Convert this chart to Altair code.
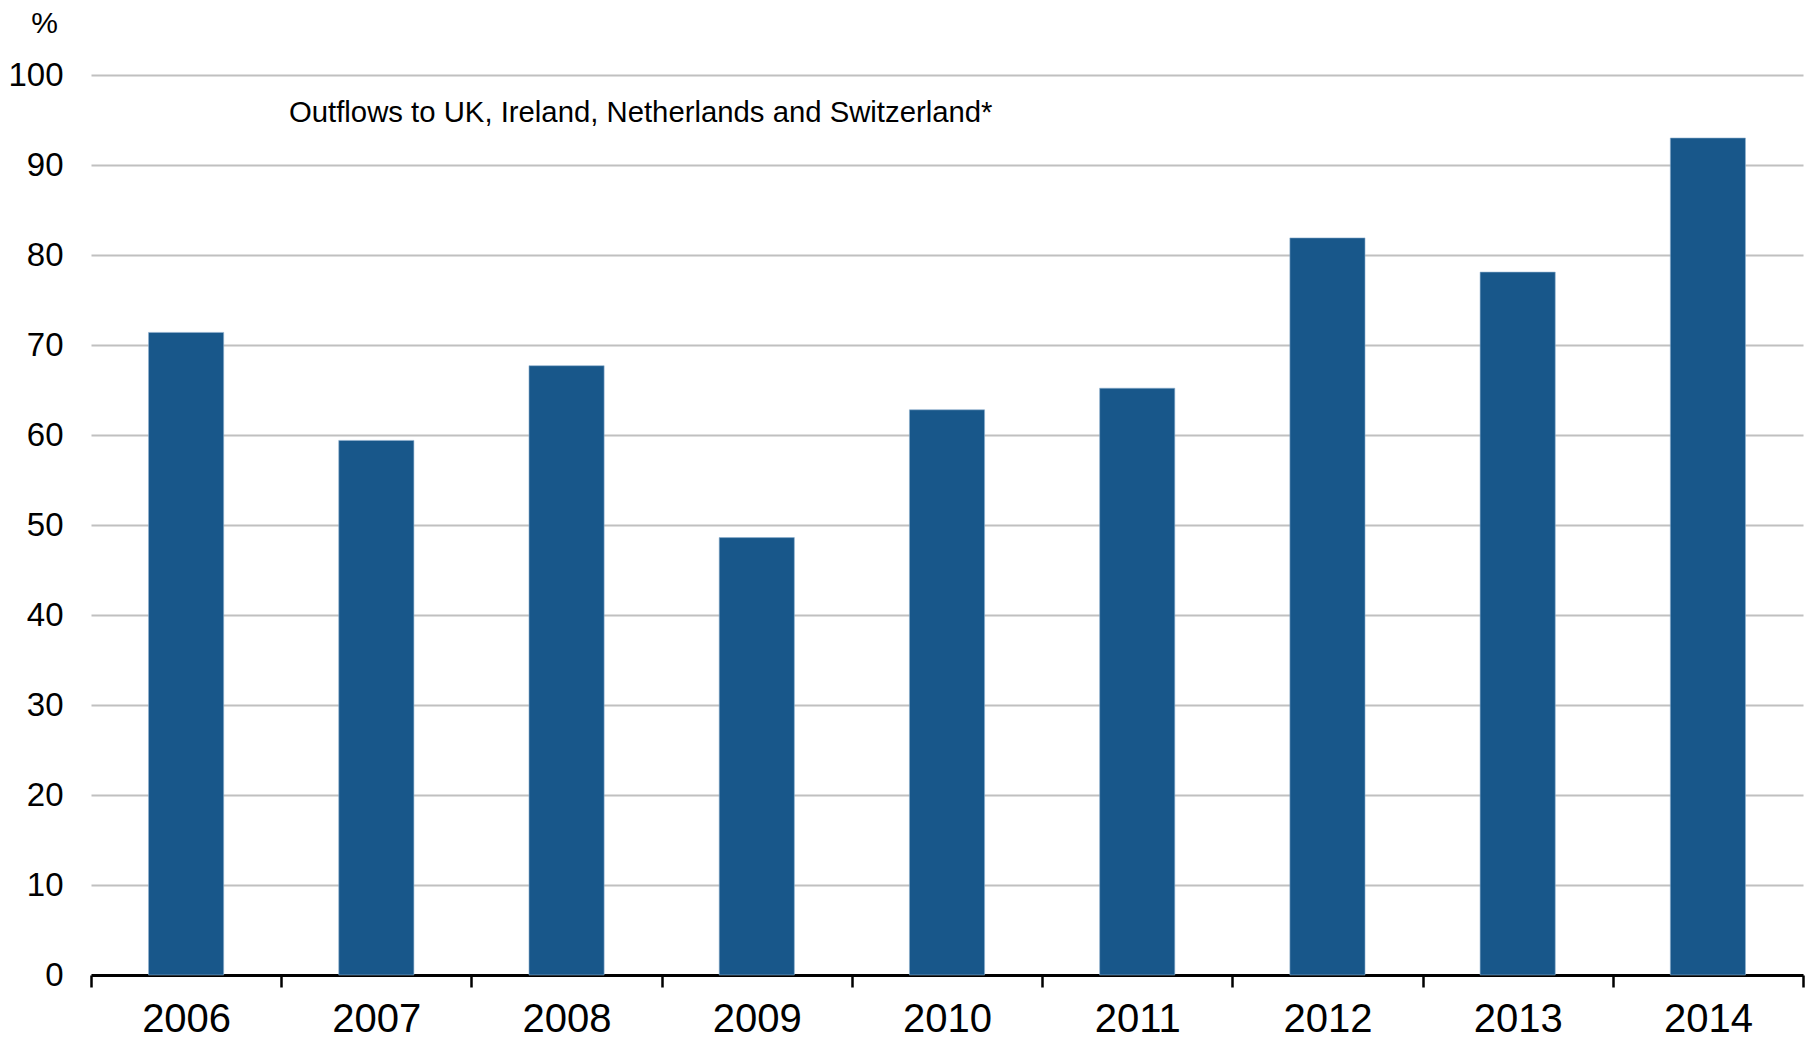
import altair as alt
import pandas as pd

years = ["2006", "2007", "2008", "2009", "2010", "2011", "2012", "2013", "2014"]
shares = [71.4, 59.4, 67.7, 48.6, 62.8, 65.2, 81.9, 78.1, 93.0]
y_ticks = [0, 10, 20, 30, 40, 50, 60, 70, 80, 90, 100]
note = "Outflows to UK, Ireland, Netherlands and Switzerland*"

df = pd.DataFrame({"year": years, "share": shares})
FONT = "Liberation Sans"

bars = alt.Chart(df).mark_bar(
    color="#18578A", stroke="#8fb0cf", strokeWidth=0.6,
    width=alt.RelativeBandSize(0.395),
).encode(
    x=alt.X("year:N", sort=years,
            scale=alt.Scale(paddingInner=0, paddingOuter=0),
            axis=alt.Axis(title=None, labelAngle=0, labelFont=FONT, labelFontSize=40,
                          labelColor="black", labelPadding=12,
                          domainColor="black", domainWidth=3,
                          ticks=True, tickBand="extent", tickColor="black",
                          tickSize=12, tickWidth=2.5, grid=False)),
    y=alt.Y("share:Q",
            scale=alt.Scale(domain=[0, 100], nice=False),
            axis=alt.Axis(title="%", titleAngle=0, titleX=-47, titleY=-52,
                          titleAlign="center", titleBaseline="middle",
                          titleFont=FONT, titleFontSize=30, titleFontWeight="normal",
                          titleColor="black",
                          values=y_ticks, labelFont=FONT, labelFontSize=33,
                          labelColor="black", labelPadding=28,
                          domain=False, ticks=False,
                          grid=True, gridColor="#c0c0c0", gridWidth=2)),
)

label = alt.Chart(pd.DataFrame({"t": [note]})).mark_text(
    align="left", baseline="middle", font=FONT, fontSize=29.3, color="black"
).encode(text="t:N", x=alt.value(198), y=alt.value(38))

chart = (bars + label).properties(
    width=1712, height=900,
    padding={"left": 91, "top": 75, "right": 10, "bottom": 66},
    autosize=alt.AutoSizeParams(type="none"),
).configure(background="white").configure_view(stroke=None)

chart.save("out.html", embed_options={"renderer": "svg", "actions": False})
